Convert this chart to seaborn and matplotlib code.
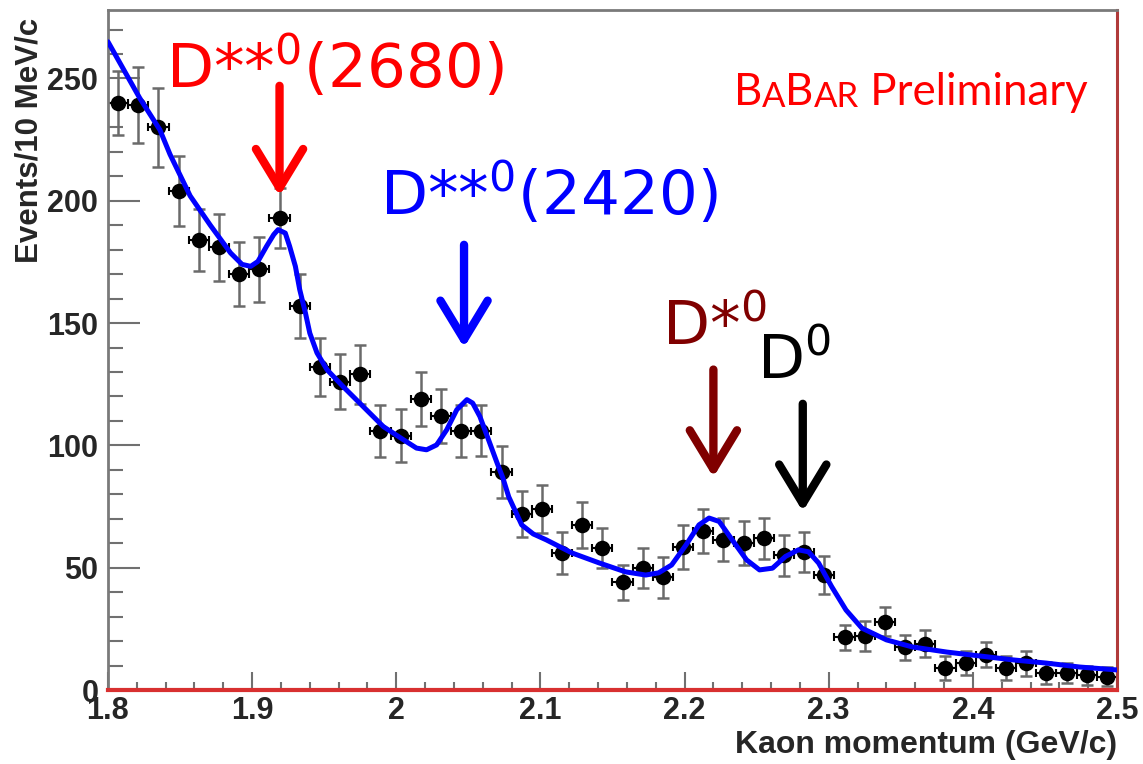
import numpy as np
import matplotlib
matplotlib.use("Agg")
import matplotlib.pyplot as plt
import seaborn as sns
from matplotlib.ticker import MultipleLocator

# binning: 50 bins between 1.8 and 2.5 GeV/c
x_lo, x_hi, n_bins = 1.8, 2.5, 50
half_bin = (x_hi - x_lo) / n_bins / 2

counts = [240, 239, 230, 204, 184, 181, 170, 172, 193, 157,
          132, 126, 129, 106, 104, 119, 112, 106, 106, 89,
          72, 74, 56, 67.5, 58, 44, 50, 46, 58.5, 65,
          61.5, 60, 62, 55, 56.5, 47, 21.5, 22, 28, 17.5,
          19, 9, 11, 14.5, 9, 11, 7, 7, 6, 5.5]
errors = [13, 15.5, 16, 14.5, 12.5, 13.8, 13.2, 13.2, 12.3, 13,
          11.8, 11.2, 12.1, 10.7, 10.7, 11.2, 10.9, 10.6, 10.4, 10.6,
          9.5, 9.9, 8.5, 9.5, 8.2, 7.1, 8.2, 8.2, 8.9, 8.9,
          8.9, 8.9, 8.5, 8.2, 8.2, 7.8, 5.1, 6.1, 6.1, 5.1,
          5.5, 4.8, 4.8, 5.1, 4.8, 5.1, 4.4, 4.2, 4.0, 4.0]

# fit curve
fit_x = [1.800, 1.822, 1.836, 1.843, 1.857, 1.871, 1.885, 1.893, 1.899, 1.904,
         1.910, 1.915, 1.918, 1.923, 1.926, 1.930, 1.933, 1.937, 1.940, 1.945,
         1.952, 1.963, 1.977, 1.991, 2.005, 2.014, 2.021, 2.028, 2.035, 2.042,
         2.049, 2.053, 2.058, 2.064, 2.070, 2.074, 2.078, 2.087, 2.095, 2.104,
         2.122, 2.141, 2.159, 2.173, 2.182, 2.191, 2.201, 2.210, 2.217, 2.224,
         2.233, 2.243, 2.252, 2.261, 2.270, 2.279, 2.286, 2.293, 2.302, 2.312,
         2.323, 2.340, 2.358, 2.382, 2.405, 2.428, 2.451, 2.474, 2.500]
fit_y = [265, 242, 229, 219, 202, 190, 178.7, 174, 173.2, 175.2,
         181.4, 186.2, 188.2, 186.8, 181.4, 173.2, 163.7, 154.1, 145.9, 137.8,
         130.9, 124.1, 115.9, 107.7, 102.3, 98.9, 98.2, 100.2, 106.4, 114.6,
         118.7, 117.3, 111.8, 102.3, 92.7, 86.6, 79, 67.5, 63.8, 61.4,
         56, 51.9, 48.3, 47, 47.9, 51.1, 59.3, 67.5, 70.3, 68.9,
         61.4, 53.2, 49.1, 49.8, 54.6, 57.3, 56.5, 51.9, 42.3, 32.7,
         25.3, 20.5, 17.6, 15.5, 13.9, 12.3, 11.0, 9.4, 8.2]

# peak labels: text, colour, label position, arrow start, arrow tip
peaks = [
    ("D**$\\mathregular{^{0}}$(2680)", "#ff0000", (1.840, 246), (1.919, 247), (1.919, 202)),
    ("D**$\\mathregular{^{0}}$(2420)", "#0000ff", (1.989, 194), (2.047, 182), (2.047, 140)),
    ("D*$\\mathregular{^{0}}$", "#800000", (2.184, 141), (2.220, 131), (2.220, 87)),
    ("D$\\mathregular{^{0}}$", "#000000", (2.250, 127), (2.282, 117), (2.282, 73)),
]

bins = np.linspace(x_lo + half_bin, x_hi - half_bin, n_bins)

sns.set_style("ticks")
plt.rcParams["font.family"] = ["Liberation Sans", "DejaVu Sans"]

fig = plt.figure(figsize=(11.43, 7.64), dpi=100)
ax = fig.add_axes([108 / 1143, 74 / 764, 1009 / 1143, 680 / 764])

ax.errorbar(bins, counts, yerr=errors, fmt="none", ecolor="#6a6a6a",
            elinewidth=1.8, capsize=4, capthick=1.8, zorder=2)
ax.errorbar(bins, counts, xerr=half_bin, fmt="none", ecolor="black",
            elinewidth=1.5, capsize=3, capthick=1.5, zorder=2)
sns.scatterplot(x=bins, y=counts, color="black", s=125, edgecolor="black",
                linewidth=0, zorder=3, ax=ax)
sns.lineplot(x=fit_x, y=fit_y, color="#0000ff", lw=3.6, zorder=4, ax=ax,
             sort=False, solid_joinstyle="round", solid_capstyle="round")

for label, col, txt_pos, a_start, a_tip in peaks:
    ax.text(txt_pos[0], txt_pos[1], label, color=col, fontsize=44,
            family="DejaVu Sans", ha="left", va="baseline")
    ax.annotate("", xy=a_tip, xytext=a_start,
                arrowprops=dict(arrowstyle="->,head_length=1.4,head_width=0.85",
                                color=col, lw=6, mutation_scale=20,
                                shrinkA=0, shrinkB=0))

# BABAR Preliminary with small caps
fs_big, fs_small = 31.5, 25
t = ax.text(0.620, 0.848, "B", color="red", fontsize=fs_big, family="Lato",
            transform=ax.transAxes, va="bottom", ha="left")
for part, fs in [("A", fs_small), ("B", fs_big), ("AR", fs_small),
                 (" Preliminary", fs_big)]:
    t = ax.annotate(part, xy=(1, 0), xycoords=t, color="red", fontsize=fs,
                    family="Lato", va="bottom", ha="left")

ax.set_xlim(x_lo, x_hi)
ax.set_ylim(0, 278)
ax.xaxis.set_major_locator(MultipleLocator(0.1))
ax.xaxis.set_minor_locator(MultipleLocator(0.02))
ax.yaxis.set_major_locator(MultipleLocator(50))
ax.yaxis.set_minor_locator(MultipleLocator(10))
ax.set_xticks(np.arange(1.8, 2.51, 0.1))
ax.set_xticklabels(["1.8", "1.9", "2", "2.1", "2.2", "2.3", "2.4", "2.5"])

ax.tick_params(axis="y", which="major", direction="in", length=23, width=1.5,
               color="#707070", labelsize=22, pad=7)
ax.tick_params(axis="y", which="minor", direction="in", length=11, width=1.5,
               color="#707070")
ax.tick_params(axis="x", which="major", direction="in", length=13, width=1.5,
               color="#707070", labelsize=22, pad=4)
ax.tick_params(axis="x", which="minor", direction="in", length=6, width=1.5,
               color="#707070")
for lab in ax.get_xticklabels() + ax.get_yticklabels():
    lab.set_fontweight("bold")

for side in ["left", "top"]:
    ax.spines[side].set_color("#7a7a7a")
    ax.spines[side].set_linewidth(2)
ax.spines["right"].set_color("#b03a3a")
ax.spines["right"].set_linewidth(2.2)
ax.spines["bottom"].set_color("#d83030")
ax.spines["bottom"].set_linewidth(3)

fig.text(1117 / 1143, 1 - 745 / 764, "Kaon momentum (GeV/c)", fontsize=23,
         fontweight="bold", ha="right", va="center")
fig.text(30 / 1143, 1 - 18 / 764, "Events/10 MeV/c", fontsize=22.5,
         fontweight="bold", rotation=90, ha="center", va="top")

fig.savefig("out.png", dpi=100)
